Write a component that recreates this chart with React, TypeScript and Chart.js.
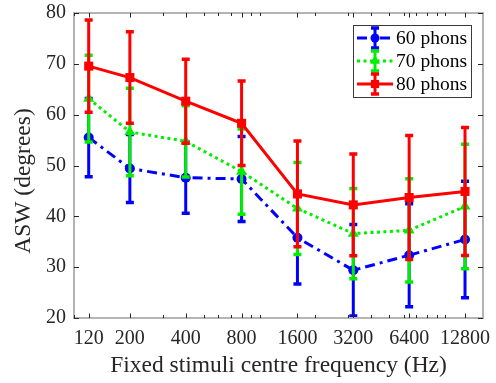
import React, { useEffect, useRef } from "react";
import { Chart, registerables } from "chart.js";

Chart.register(...registerables);

const frequencies = [120, 200, 400, 800, 1600, 3200, 6400, 12800];
const tickLabels = ["120", "200", "400", "800", "1600", "3200", "6400", "12800"];
const yTicks = [20, 30, 40, 50, 60, 70, 80];

const mean60 = [55.5, 49.4, 47.6, 47.35, 35.8, 29.4, 32.35, 35.45];
const err60 = [7.7, 6.7, 7.0, 8.35, 9.1, 9.0, 10.15, 11.45];
const mean70 = [63.15, 56.6, 54.75, 48.8, 41.55, 36.6, 37.25, 41.95];
const err70 = [8.55, 8.6, 7.0, 8.4, 9.05, 8.9, 10.15, 12.25];
const mean80 = [69.55, 67.3, 62.65, 58.3, 44.4, 42.25, 43.7, 44.9];
const err80 = [9.05, 9.0, 8.25, 8.3, 10.4, 10.0, 12.2, 12.6];

const seriesLabels = ["60 phons", "70 phons", "80 phons"];
const seriesColors = ["#0000ff", "#00ee00", "#ff0000"];
const seriesDash = [[10, 5, 3, 5], [3, 3.5], []];
const seriesMarker = ["circle", "triangle", "rect"];
const seriesRadius = [5, 6.3, 6.4];
const seriesMeans = [mean60, mean70, mean80];
const seriesErrs = [err60, err70, err80];

const SERIF = "'Liberation Serif', 'Times New Roman', serif";
const TEXT = "#262626";

function drawMarker(ctx: CanvasRenderingContext2D, kind: string, x: number, y: number, r: number, color: string) {
  ctx.save();
  ctx.setLineDash([]);
  ctx.fillStyle = color;
  ctx.beginPath();
  if (kind === "circle") {
    ctx.arc(x, y, r, 0, Math.PI * 2);
  } else if (kind === "triangle") {
    const h = r;
    ctx.moveTo(x, y - h);
    ctx.lineTo(x + h * Math.sin(Math.PI / 3), y + h * 0.5);
    ctx.lineTo(x - h * Math.sin(Math.PI / 3), y + h * 0.5);
    ctx.closePath();
  } else {
    const s = r * Math.SQRT1_2;
    ctx.rect(x - s, y - s, 2 * s, 2 * s);
  }
  ctx.fill();
  ctx.restore();
}

function drawErrorBar(ctx: CanvasRenderingContext2D, x: number, yTop: number, yBot: number, color: string) {
  ctx.save();
  ctx.setLineDash([]);
  ctx.strokeStyle = color;
  ctx.lineCap = "butt";
  ctx.lineWidth = 3;
  ctx.beginPath();
  ctx.moveTo(x, yTop);
  ctx.lineTo(x, yBot);
  ctx.stroke();
  ctx.lineWidth = 3.5;
  ctx.beginPath();
  ctx.moveTo(x - 4, yTop);
  ctx.lineTo(x + 4, yTop);
  ctx.moveTo(x - 4, yBot);
  ctx.lineTo(x + 4, yBot);
  ctx.stroke();
  ctx.restore();
}

const errorBarPlugin = {
  id: "errorBars",
  afterDatasetDraw(chart: any, args: any) {
    const i = args.index;
    const ctx = chart.ctx;
    const xs = chart.scales.x;
    const ys = chart.scales.y;
    const m = seriesMeans[i];
    const e = seriesErrs[i];
    frequencies.forEach((f, k) => {
      const x = xs.getPixelForValue(f);
      drawErrorBar(ctx, x, ys.getPixelForValue(m[k] + e[k]), ys.getPixelForValue(m[k] - e[k]), seriesColors[i]);
    });
  },
};

const framePlugin = {
  id: "frame",
  afterDraw(chart: any) {
    const ctx = chart.ctx;
    const { left, right, top, bottom } = chart.chartArea;
    const xs = chart.scales.x;
    const ys = chart.scales.y;
    ctx.save();
    ctx.strokeStyle = "#b4b4b4";
    ctx.lineWidth = 2;
    ctx.strokeRect(left, top, right - left, bottom - top);
    ctx.strokeStyle = TEXT;
    ctx.lineWidth = 1;
    ctx.beginPath();
    yTicks.forEach((v) => {
      const y = Math.round(ys.getPixelForValue(v)) + 0.5;
      ctx.moveTo(left, y);
      ctx.lineTo(left + 5, y);
      ctx.moveTo(right, y);
      ctx.lineTo(right - 5, y);
    });
    const minor: number[] = [];
    for (let d = 100; d <= 10000; d *= 10) {
      for (let k = 1; k <= 9; k++) minor.push(k * d);
    }
    minor.forEach((v) => {
      if (v < xs.min || v > xs.max) return;
      const x = Math.round(xs.getPixelForValue(v)) + 0.5;
      ctx.moveTo(x, bottom);
      ctx.lineTo(x, bottom - 3);
      ctx.moveTo(x, top);
      ctx.lineTo(x, top + 3);
    });
    frequencies.forEach((v) => {
      const x = Math.round(xs.getPixelForValue(v)) + 0.5;
      ctx.moveTo(x, bottom);
      ctx.lineTo(x, bottom - 4.5);
      ctx.moveTo(x, top);
      ctx.lineTo(x, top + 4.5);
    });
    ctx.stroke();

    ctx.fillStyle = TEXT;
    ctx.font = `23.5px ${SERIF}`;
    ctx.textAlign = "center";
    ctx.textBaseline = "alphabetic";
    ctx.fillText("Fixed stimuli centre frequency (Hz)", (left + right) / 2, 372);
    ctx.save();
    ctx.translate(30, 181);
    ctx.rotate(-Math.PI / 2);
    ctx.fillText("ASW (degrees)", 0, 0);
    ctx.restore();

    const bx = 353, by = 25, bw = 118, bh = 72;
    ctx.fillStyle = "#ffffff";
    ctx.fillRect(bx, by, bw, bh);
    ctx.strokeStyle = "#3a3a3a";
    ctx.lineWidth = 1;
    ctx.strokeRect(bx + 0.5, by + 0.5, bw, bh);
    const rows = [38, 61, 84];
    rows.forEach((cy, i) => {
      ctx.save();
      ctx.strokeStyle = seriesColors[i];
      ctx.lineWidth = 3;
      ctx.setLineDash(seriesDash[i]);
      ctx.beginPath();
      ctx.moveTo(357, cy);
      ctx.lineTo(393, cy);
      ctx.stroke();
      ctx.restore();
      drawMarker(ctx, seriesMarker[i], 375, cy, seriesRadius[i] * 0.9, seriesColors[i]);
      drawErrorBar(ctx, 375, cy - 10, cy + 10, seriesColors[i]);
      ctx.fillStyle = "#000000";
      ctx.font = `19.5px ${SERIF}`;
      ctx.textAlign = "left";
      ctx.textBaseline = "middle";
      ctx.fillText(seriesLabels[i], 396, cy + 1);
    });
    ctx.restore();
  },
};

export default function App() {
  const canvasRef = useRef<HTMLCanvasElement | null>(null);

  useEffect(() => {
    if (!canvasRef.current) return;
    const datasets = seriesLabels.map((label, i) => ({
      label,
      data: frequencies.map((f, k) => ({ x: f, y: seriesMeans[i][k] })),
      borderColor: seriesColors[i],
      backgroundColor: seriesColors[i],
      borderWidth: 3,
      borderDash: seriesDash[i],
      pointStyle: seriesMarker[i],
      pointRadius: seriesRadius[i],
      pointBorderWidth: 0,
      pointBackgroundColor: seriesColors[i],
      tension: 0,
      fill: false,
      order: 3 - i,
      clip: false as any,
    }));

    const chart = new Chart(canvasRef.current, {
      type: "line",
      data: { datasets },
      options: {
        animation: false,
        responsive: false,
        layout: { padding: { top: 13, right: 13, left: 0, bottom: 0 } },
        plugins: { legend: { display: false }, tooltip: { enabled: false } },
        scales: {
          x: {
            type: "logarithmic",
            min: 100,
            max: 16000,
            grid: { display: false, drawTicks: false },
            border: { display: false },
            afterBuildTicks: (scale: any) => {
              scale.ticks = frequencies.map((v) => ({ value: v }));
            },
            afterFit: (scale: any) => {
              scale.height = 65;
              scale.paddingLeft = 0;
              scale.paddingRight = 0;
            },
            ticks: {
              autoSkip: false,
              maxRotation: 0,
              padding: 9,
              color: TEXT,
              font: { family: SERIF, size: 20 },
              callback: (_v: any, idx: number) => tickLabels[idx],
            },
          },
          y: {
            type: "linear",
            min: 20,
            max: 80,
            grid: { display: false, drawTicks: false },
            border: { display: false },
            afterBuildTicks: (scale: any) => {
              scale.ticks = yTicks.map((v) => ({ value: v }));
            },
            afterFit: (scale: any) => {
              scale.width = 74;
              scale.paddingTop = 0;
              scale.paddingBottom = 0;
            },
            ticks: {
              padding: 8,
              color: TEXT,
              font: { family: SERIF, size: 20 },
            },
          },
        },
      },
      plugins: [errorBarPlugin, framePlugin],
    });
    return () => chart.destroy();
  }, []);

  return (
    <div style={{ position: "absolute", left: 0, top: 0, width: 496, height: 383, background: "#fff" }}>
      <canvas ref={canvasRef} width={496} height={383} style={{ display: "block" }} />
    </div>
  );
}
